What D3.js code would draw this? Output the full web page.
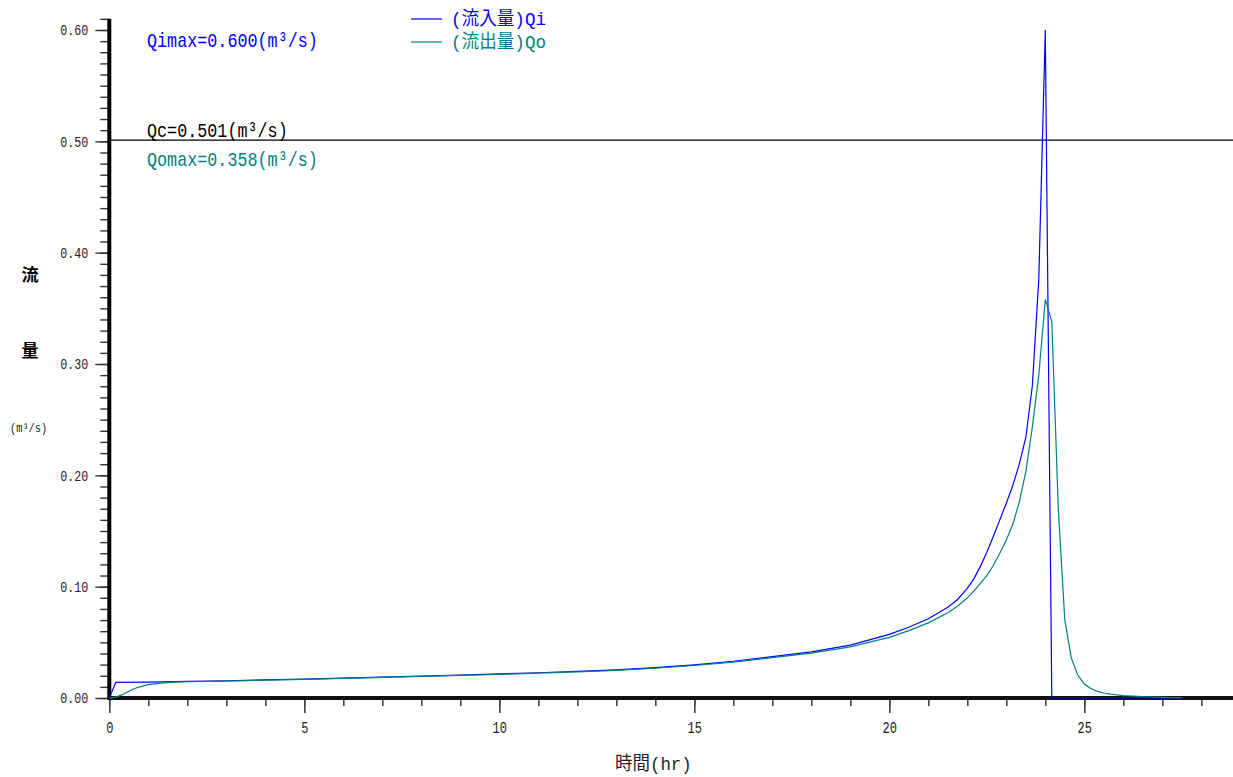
<!DOCTYPE html>
<html>
<head>
<meta charset="utf-8">
<script src="https://cdn.jsdelivr.net/npm/d3@7"></script>
<style>
  html, body { margin: 0; padding: 0; background: #fff; }
  svg { display: block; }
  text { font-family: "Liberation Mono", "Noto Sans CJK JP", monospace; }
</style>
</head>
<body>
<script>
// Inflow hydrograph Qi (m3/s) against time (hr)
const qiTime = [0, 0.1667, 1, 2, 3, 4, 5, 6, 7, 8, 9, 10, 11, 12, 13, 14, 15, 16, 17, 18, 19, 20,
  20.5, 21, 21.5, 21.75, 22, 22.1667, 22.3333, 22.5, 22.6667, 22.8333, 23, 23.1667, 23.3333, 23.5,
  23.6667, 23.8333, 24, 24.1667, 27.5];
const qiFlow = [0, 0.0141, 0.0143, 0.0149, 0.0155, 0.0162, 0.0170, 0.0178, 0.0187, 0.0197, 0.0206,
  0.0216, 0.0227, 0.0239, 0.0253, 0.0272, 0.0298, 0.0330, 0.0371, 0.0415, 0.0475, 0.0572,
  0.0635, 0.0712, 0.0815, 0.0885, 0.0985, 0.1070, 0.1180, 0.1310, 0.1450, 0.1600, 0.1750, 0.1910,
  0.2100, 0.2340, 0.2800, 0.3760, 0.6000, 0, 0];

// Outflow hydrograph Qo (m3/s) against time (hr)
const qoTime = [0, 0.1667, 0.3333, 0.5, 0.6667, 0.8333, 1, 1.3333, 1.6667, 2,
  3, 4, 5, 6, 7, 8, 9, 10, 11, 12, 13, 14, 15, 16, 17, 18, 19, 20,
  20.5, 21, 21.5, 21.75, 22, 22.1667,
  22.3333, 22.5, 22.6667, 22.8333, 23, 23.1667, 23.3333, 23.5, 23.6667, 23.8333, 24,
  24.1667, 24.3333, 24.5, 24.6667, 24.8333, 25, 25.1667, 25.3333, 25.5, 25.6667, 25.8333, 26,
  26.5, 27, 27.5];
const qoFlow = [0, 0.0008, 0.003, 0.006, 0.0088, 0.0105, 0.012, 0.0133, 0.0142, 0.0146,
  0.0152, 0.0160, 0.0168, 0.0176, 0.0185, 0.0194, 0.0203, 0.0213, 0.0223, 0.0235, 0.0249, 0.0267,
  0.0292, 0.0323, 0.0362, 0.0403, 0.0460, 0.0545,
  0.0605, 0.0675, 0.0765, 0.0825, 0.0900, 0.0960,
  0.1030, 0.1100, 0.1190, 0.1300, 0.1420, 0.1560, 0.1760, 0.2030, 0.2430, 0.2900, 0.3580,
  0.3380, 0.1700, 0.0700, 0.0360, 0.0205, 0.0125, 0.0085, 0.0060, 0.0045, 0.0035, 0.0028, 0.0022,
  0.0012, 0.0006, 0.0003];

// Allowable discharge
const qcFlow = 0.501;

const yMajorTicks = [0, 0.1, 0.2, 0.3, 0.4, 0.5, 0.6];
const xMajorTicks = [0, 5, 10, 15, 20, 25];
const seriesNames = ["(流入量)Qi", "(流出量)Qo"];
const xTitle = "時間(hr)";
const yTitleChars = ["流", "量"];
const yUnit = "(m³/s)";

const W = 1233, H = 777;
const BLUE = "#0000ff", TEAL = "#008080";

const svg = d3.select("body").append("svg").attr("width", W).attr("height", H);

const x = d3.scaleLinear().domain([0, (W - 109.3) / 39]).range([109.3, W]);
const y = d3.scaleLinear().domain([0, 0.6]).range([698, 30]);

// Condensed monospace look: fixed advance per character
function condense(sel, adv) {
  sel.each(function () {
    const t = d3.select(this);
    const s = t.text();
    let n = 0;
    for (const ch of s) n += (ch.charCodeAt(0) > 0x2e80 ? 2 : 1);
    t.attr("textLength", n * adv).attr("lengthAdjust", "spacingAndGlyphs");
  });
}

// ---- Y axis ticks ----
const yMinor = d3.range(0, 62).map(i => i / 100);
svg.append("g").attr("transform", `translate(${x(0)},0)`)
  .call(d3.axisLeft(y).tickValues(yMinor).tickSize(9).tickFormat(""))
  .call(g => g.select(".domain").remove())
  .call(g => g.selectAll("line").attr("stroke", "#333").attr("stroke-width", 1.4));

const yAx = svg.append("g").attr("transform", `translate(${x(0)},0)`)
  .call(d3.axisLeft(y).tickValues(yMajorTicks).tickSize(14).tickPadding(7).tickFormat(d3.format(".2f")))
  .call(g => g.select(".domain").remove())
  .call(g => g.selectAll("line").attr("stroke", "#333").attr("stroke-width", 1.4));
yAx.selectAll("text").attr("font-size", 15).attr("fill", "#222")
  .attr("font-family", "Liberation Mono").call(condense, 7);

// ---- X axis ticks ----
const xMinor = d3.range(0, 29);
svg.append("g").attr("transform", `translate(0,${y(0)})`)
  .call(d3.axisBottom(x).tickValues(xMinor).tickSize(8).tickFormat(""))
  .call(g => g.select(".domain").remove())
  .call(g => g.selectAll("line").attr("stroke", "#444").attr("stroke-width", 1.6));

const xAx = svg.append("g").attr("transform", `translate(0,${y(0)})`)
  .call(d3.axisBottom(x).tickValues(xMajorTicks).tickSize(15).tickPadding(9).tickFormat(d3.format("d")))
  .call(g => g.select(".domain").remove())
  .call(g => g.selectAll("line").attr("stroke", "#444").attr("stroke-width", 1.6));
xAx.selectAll("text").attr("font-size", 16).attr("fill", "#222")
  .attr("font-family", "Liberation Mono").call(condense, 7.2);

// ---- Axis lines ----
svg.append("line").attr("x1", x(0)).attr("x2", x(0)).attr("y1", y(0.61)).attr("y2", y(0) + 2)
  .attr("stroke", "#000").attr("stroke-width", 4);
svg.append("line").attr("x1", x(0)).attr("x2", W).attr("y1", y(0)).attr("y2", y(0))
  .attr("stroke", "#111").attr("stroke-width", 4);

// ---- Allowable discharge line ----
svg.append("line").attr("x1", x(0)).attr("x2", W).attr("y1", y(qcFlow)).attr("y2", y(qcFlow))
  .attr("stroke", "#000").attr("stroke-width", 1.2);

// ---- Hydrographs ----
const line = d3.line().x(d => x(d[0])).y(d => y(d[1]));
svg.append("path").datum(d3.zip(qiTime, qiFlow)).attr("d", line)
  .attr("fill", "none").attr("stroke", BLUE).attr("stroke-width", 1.2);
svg.append("path").datum(d3.zip(qoTime, qoFlow)).attr("d", line)
  .attr("fill", "none").attr("stroke", TEAL).attr("stroke-width", 1.2);

// ---- Annotations ----
const f3 = d3.format(".3f");
const ann = [
  { t: `Qimax=${f3(d3.max(qiFlow))}(m³/s)`, c: BLUE, yb: 47 },
  { t: `Qc=${f3(qcFlow)}(m³/s)`, c: "#000", yb: 137 },
  { t: `Qomax=${f3(d3.max(qoFlow))}(m³/s)`, c: TEAL, yb: 166 }
];
svg.selectAll("text.ann").data(ann).join("text").attr("class", "ann")
  .attr("x", 147).attr("y", d => d.yb).attr("fill", d => d.c)
  .attr("font-size", 21).text(d => d.t).call(condense, 10.05);

// ---- Legend ----
const lg = svg.append("g");
[BLUE, TEAL].forEach((c, i) => {
  lg.append("line").attr("x1", 411).attr("x2", 442).attr("y1", 19 + i * 23).attr("y2", 19 + i * 23)
    .attr("stroke", c).attr("stroke-width", 1.2);
  lg.append("text").attr("x", 451).attr("y", 25 + i * 23).attr("fill", c)
    .attr("font-size", 19).text(seriesNames[i]).call(condense, 9.5);
});

// ---- Axis titles ----
svg.append("text").attr("x", 30).attr("y", 281).attr("text-anchor", "middle")
  .attr("font-size", 17).attr("font-weight", "bold").attr("font-family", "Noto Sans CJK JP")
  .text(yTitleChars[0]);
svg.append("text").attr("x", 30).attr("y", 357).attr("text-anchor", "middle")
  .attr("font-size", 17).attr("font-weight", "bold").attr("font-family", "Noto Sans CJK JP")
  .text(yTitleChars[1]);
svg.append("text").attr("x", 10).attr("y", 432).attr("font-size", 12).attr("fill", "#222")
  .text(yUnit).call(condense, 6.2);

svg.append("text").attr("x", 615).attr("y", 770).attr("font-size", 19).attr("fill", "#222")
  .text(xTitle).call(condense, 9.6);
</script>
</body>
</html>
